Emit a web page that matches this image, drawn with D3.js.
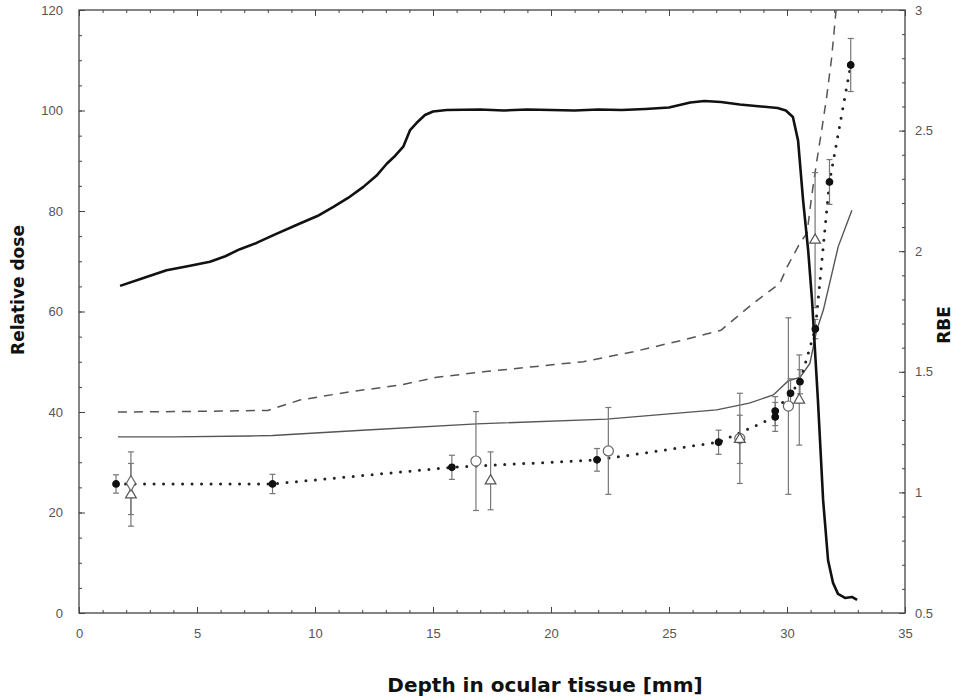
<!DOCTYPE html>
<html>
<head>
<meta charset="utf-8">
<script src="https://cdn.jsdelivr.net/npm/d3@7"></script>
<style>
  body { margin: 0; background: #fff; }
  svg { font-family: "DejaVu Sans", sans-serif; }
</style>
</head>
<body>
<svg id="chart"></svg>
<script>
// relative dose (left axis), thick solid
const doseDepth = [1.74,2.7,3.71,4.6,5.55,6.2,6.82,7.5,8.24,9.36,10.1,10.78,11.4,12.05,12.6,13.04,13.4,13.74,14.03,14.3,14.66,15.0,15.58,17,18,19,20,21,22,23,24,25,25.9,26.5,27.2,28,28.9,29.6,29.95,30.25,30.47,30.68,30.9,31.06,31.31,31.53,31.74,31.95,32.16,32.46,32.75,32.97];
const doseValue = [65.1,66.6,68.2,69.0,69.9,71.0,72.4,73.6,75.2,77.5,79.0,80.8,82.6,84.8,87.0,89.4,91.0,92.8,96.1,97.5,99.1,99.8,100.1,100.2,100.0,100.2,100.1,100.0,100.2,100.1,100.3,100.6,101.6,101.9,101.7,101.2,100.8,100.5,100.0,98.7,94,82.2,72,62.3,42.4,22.5,10.5,6,3.8,3.0,3.2,2.6];

// RBE model curves (right axis)
const dashDepth = [1.65,4,6,8.0,9.36,11.48,13.6,15.16,17.13,19.25,21.37,23.49,25.6,27.2,28.57,29.7,30.0,30.55,30.85,31.04,31.25,31.47,31.68,31.89,32.08];
const dashRBE = [1.333,1.335,1.337,1.34,1.383,1.417,1.445,1.477,1.5,1.521,1.542,1.583,1.632,1.672,1.784,1.867,1.934,2.034,2.075,2.225,2.366,2.502,2.639,2.8,3.0];

const thinDepth = [1.65,4,7.25,8.2,12.19,16.85,22.36,27.02,28.4,29.42,30.06,30.55,30.97,31.26,31.54,32.17,32.75];
const thinRBE = [1.23,1.23,1.234,1.236,1.259,1.284,1.304,1.342,1.37,1.404,1.463,1.477,1.535,1.673,1.756,2.019,2.17];

// measured RBE points: filled circles joined by dotted line
const dotDepth = [1.57,8.2,15.8,21.95,27.1,29.5,29.5,30.15,30.55,31.2,31.8,32.7];
const dotRBE = [1.035,1.035,1.104,1.135,1.208,1.313,1.337,1.411,1.459,1.677,2.287,2.772];
const dotErr = [0.038,0.04,0.05,0.047,0.05,0.06,0.06,0.06,0.05,0.04,0.093,0.11];

// open circles
const circDepth = [16.82,22.43,28.0,30.06];
const circRBE = [1.13,1.172,1.224,1.358];
const circErr = [0.205,0.18,0.187,0.366];

// open triangles
const triDepth = [2.2,17.44,28.0,30.52,31.19];
const triRBE = [0.99,1.048,1.22,1.383,2.046];
const triErr = [0.13,0.12,0.1,0.187,0.28];

// open diamonds
const diaDepth = [2.2];
const diaRBE = [1.038];
const diaErr = [0.13];

const xTicks = [0,5,10,15,20,25,30,35];
const doseTicks = [0,20,40,60,80,100,120];
const rbeTicks = [0.5,1,1.5,2,2.5,3];

const width = 953, height = 700;
const margin = {top: 10, right: 48, bottom: 87, left: 79};

const svg = d3.select("#chart").attr("width", width).attr("height", height);

const x = d3.scaleLinear().domain([0, 35]).range([margin.left, width - margin.right]);
const yL = d3.scaleLinear().domain([0, 120]).range([height - margin.bottom, margin.top]);
const yR = d3.scaleLinear().domain([0.5, 3]).range([height - margin.bottom, margin.top]);

const axisColor = "#444";
const labelColor = "#555";

svg.append("clipPath").attr("id", "plotclip")
  .append("rect")
  .attr("x", margin.left).attr("y", margin.top)
  .attr("width", width - margin.left - margin.right)
  .attr("height", height - margin.top - margin.bottom);

// frame
svg.append("rect")
  .attr("x", margin.left).attr("y", margin.top)
  .attr("width", width - margin.left - margin.right)
  .attr("height", height - margin.top - margin.bottom)
  .attr("fill", "none").attr("stroke", axisColor).attr("stroke-width", 1.3);

function styleAxis(g) {
  g.select(".domain").remove();
  g.selectAll("line").attr("stroke", axisColor).attr("stroke-width", 1);
  g.selectAll("text").attr("fill", labelColor).style("font-size", "13px");
}

// x axis: bottom (labels) + minor, top mirrored
const xMinor = d3.range(0, 36, 1);
svg.append("g").attr("transform", `translate(0,${height - margin.bottom})`)
  .call(d3.axisBottom(x).tickValues(xMinor).tickSize(-3).tickFormat(""))
  .call(styleAxis);
svg.append("g").attr("transform", `translate(0,${height - margin.bottom})`)
  .call(d3.axisBottom(x).tickValues(xTicks).tickSize(-6).tickPadding(16))
  .call(styleAxis);
svg.append("g").attr("transform", `translate(0,${margin.top})`)
  .call(d3.axisTop(x).tickValues(xMinor).tickSize(-3).tickFormat(""))
  .call(styleAxis);
svg.append("g").attr("transform", `translate(0,${margin.top})`)
  .call(d3.axisTop(x).tickValues(xTicks).tickSize(-6).tickFormat(""))
  .call(styleAxis);

// left axis
svg.append("g").attr("transform", `translate(${margin.left},0)`)
  .call(d3.axisLeft(yL).tickValues(d3.range(0, 121, 5)).tickSize(-3).tickFormat(""))
  .call(styleAxis);
svg.append("g").attr("transform", `translate(${margin.left},0)`)
  .call(d3.axisLeft(yL).tickValues(doseTicks).tickSize(-6).tickPadding(16))
  .call(styleAxis);

// right axis
svg.append("g").attr("transform", `translate(${width - margin.right},0)`)
  .call(d3.axisRight(yR).tickValues(d3.range(5, 31).map(d => d / 10)).tickSize(-3).tickFormat(""))
  .call(styleAxis);
svg.append("g").attr("transform", `translate(${width - margin.right},0)`)
  .call(d3.axisRight(yR).tickValues(rbeTicks).tickSize(-6).tickPadding(10).tickFormat(d3.format("")))
  .call(styleAxis);

// axis titles
svg.append("text")
  .attr("transform", `translate(24,${290}) rotate(-90)`)
  .attr("text-anchor", "middle")
  .style("font-size", "17px").style("font-weight", "bold")
  .attr("fill", "#111")
  .text("Relative dose");
svg.append("text")
  .attr("transform", `translate(950,${325}) rotate(-90)`)
  .attr("text-anchor", "middle")
  .style("font-size", "17px").style("font-weight", "bold")
  .attr("fill", "#111")
  .text("RBE");
svg.append("text")
  .attr("x", 545).attr("y", 692)
  .attr("text-anchor", "middle")
  .style("font-size", "20px").style("font-weight", "bold")
  .attr("fill", "#111")
  .text("Depth in ocular tissue [mm]");

const plot = svg.append("g").attr("clip-path", "url(#plotclip)");

const lineL = d3.line().x(d => x(d[0])).y(d => yL(d[1]));
const lineR = d3.line().x(d => x(d[0])).y(d => yR(d[1]));

plot.append("path")
  .datum(dashDepth.map((d, i) => [d, dashRBE[i]]))
  .attr("d", lineR).attr("fill", "none")
  .attr("stroke", "#555").attr("stroke-width", 1.5)
  .attr("stroke-dasharray", "9,7");

plot.append("path")
  .datum(thinDepth.map((d, i) => [d, thinRBE[i]]))
  .attr("d", lineR).attr("fill", "none")
  .attr("stroke", "#555").attr("stroke-width", 1.4);

plot.append("path")
  .datum(dotDepth.map((d, i) => [d, dotRBE[i]]))
  .attr("d", lineR).attr("fill", "none")
  .attr("stroke", "#222").attr("stroke-width", 3)
  .attr("stroke-linecap", "round")
  .attr("stroke-dasharray", "0,9.5");

// error bars
function errorBars(xs, ys, es) {
  const g = plot.append("g").attr("stroke", "#777").attr("stroke-width", 1.2);
  xs.forEach((d, i) => {
    const cx = x(d), y0 = yR(ys[i] - es[i]), y1 = yR(ys[i] + es[i]);
    g.append("line").attr("x1", cx).attr("x2", cx).attr("y1", y0).attr("y2", y1);
    g.append("line").attr("x1", cx - 3).attr("x2", cx + 3).attr("y1", y0).attr("y2", y0);
    g.append("line").attr("x1", cx - 3).attr("x2", cx + 3).attr("y1", y1).attr("y2", y1);
  });
}
errorBars(circDepth, circRBE, circErr);
errorBars(triDepth, triRBE, triErr);
errorBars(diaDepth, diaRBE, diaErr);
errorBars(dotDepth, dotRBE, dotErr);

// thick dose curve
plot.append("path")
  .datum(doseDepth.map((d, i) => [d, doseValue[i]]))
  .attr("d", lineL).attr("fill", "none")
  .attr("stroke", "#111").attr("stroke-width", 2.6)
  .attr("stroke-linejoin", "round");

// markers
const sym = (type, size) => d3.symbol().type(type).size(size)();
function markers(xs, ys, path, fill, stroke) {
  plot.append("g").selectAll("path")
    .data(xs.map((d, i) => [d, ys[i]]))
    .join("path")
    .attr("transform", d => `translate(${x(d[0])},${yR(d[1])})`)
    .attr("d", path)
    .attr("fill", fill).attr("stroke", stroke).attr("stroke-width", 1.2);
}
markers(circDepth, circRBE, sym(d3.symbolCircle, 80), "#fff", "#666");
markers(triDepth, triRBE, sym(d3.symbolTriangle, 50), "#fff", "#555");
markers(diaDepth, diaRBE, sym(d3.symbolDiamond, 70), "#fff", "#666");
markers(dotDepth, dotRBE, sym(d3.symbolCircle, 34), "#111", "#111");
</script>
</body>
</html>
